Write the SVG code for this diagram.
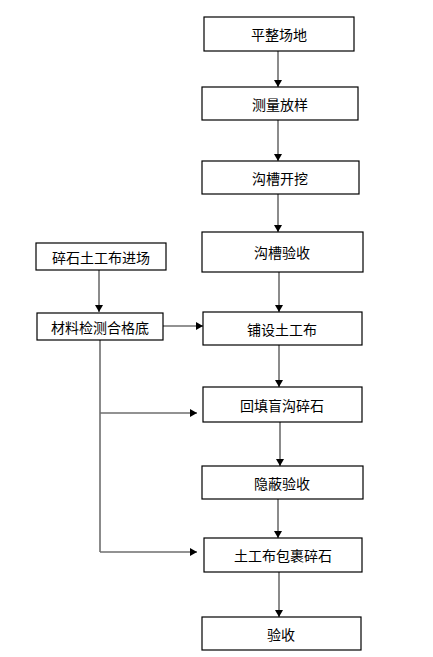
<svg xmlns="http://www.w3.org/2000/svg" width="433" height="657" viewBox="0 0 433 657">
<style>
.box{fill:#fff;stroke:#000;stroke-width:1.2}
.t{font-family:"Noto Sans CJK SC","Liberation Sans",sans-serif;font-size:14px;fill:#000;text-anchor:middle;dominant-baseline:central}
.c{stroke:#6e6e6e;stroke-width:1.6;fill:none;marker-end:url(#ah)}
.l{stroke:#6e6e6e;stroke-width:1.6;fill:none}
</style>
<defs>
<marker id="ah" markerUnits="userSpaceOnUse" markerWidth="8" markerHeight="8" refX="7" refY="4" orient="auto">
<path d="M0,0 L7,4 L0,8 Z" fill="#000"/>
</marker>
</defs>
<rect width="433" height="657" fill="#fff"/>
<g id="connectors">
<line class="c" x1="278" y1="51" x2="278" y2="87"/>
<line class="c" x1="278" y1="120" x2="278" y2="161"/>
<line class="c" x1="278" y1="194" x2="278" y2="232"/>
<line class="c" x1="279" y1="272" x2="279" y2="312"/>
<line class="c" x1="279" y1="345" x2="279" y2="387"/>
<line class="c" x1="280" y1="422" x2="280" y2="466"/>
<line class="c" x1="278" y1="499" x2="278" y2="538"/>
<line class="c" x1="279" y1="572" x2="279" y2="617"/>
<line class="c" x1="99" y1="270" x2="99" y2="312"/>
<line class="c" x1="163" y1="326" x2="203" y2="326"/>
<line class="l" x1="100" y1="340" x2="100" y2="552"/>
<line class="c" x1="100" y1="413" x2="197" y2="413"/>
<line class="c" x1="100" y1="552" x2="197" y2="552"/>
</g>
<g id="n1"><rect class="box" x="204" y="17" width="150" height="34"/><text class="t" x="279" y="34">平整场地</text></g>
<g id="n2"><rect class="box" x="202" y="87" width="156" height="33"/><text class="t" x="280" y="103.5">测量放样</text></g>
<g id="n3"><rect class="box" x="202" y="161" width="157" height="33"/><text class="t" x="280" y="177.5">沟槽开挖</text></g>
<g id="n4"><rect class="box" x="202" y="232" width="161" height="40"/><text class="t" x="282" y="252">沟槽验收</text></g>
<g id="n5"><rect class="box" x="36" y="243" width="130" height="27"/><text class="t" x="101" y="256.5">碎石土工布进场</text></g>
<g id="n6"><rect class="box" x="37" y="313" width="126" height="27"/><text class="t" x="100" y="326.5">材料检测合格底</text></g>
<g id="n7"><rect class="box" x="203" y="312" width="159" height="33"/><text class="t" x="282" y="328.5">铺设土工布</text></g>
<g id="n8"><rect class="box" x="203" y="387" width="159" height="35"/><text class="t" x="282" y="404.5">回填盲沟碎石</text></g>
<g id="n9"><rect class="box" x="202" y="466" width="161" height="33"/><text class="t" x="282" y="482.5">隐蔽验收</text></g>
<g id="n10"><rect class="box" x="204" y="538" width="158" height="34"/><text class="t" x="283" y="555">土工布包裹碎石</text></g>
<g id="n11"><rect class="box" x="202" y="617" width="159" height="33"/><text class="t" x="281" y="633.5">验收</text></g>
</svg>
